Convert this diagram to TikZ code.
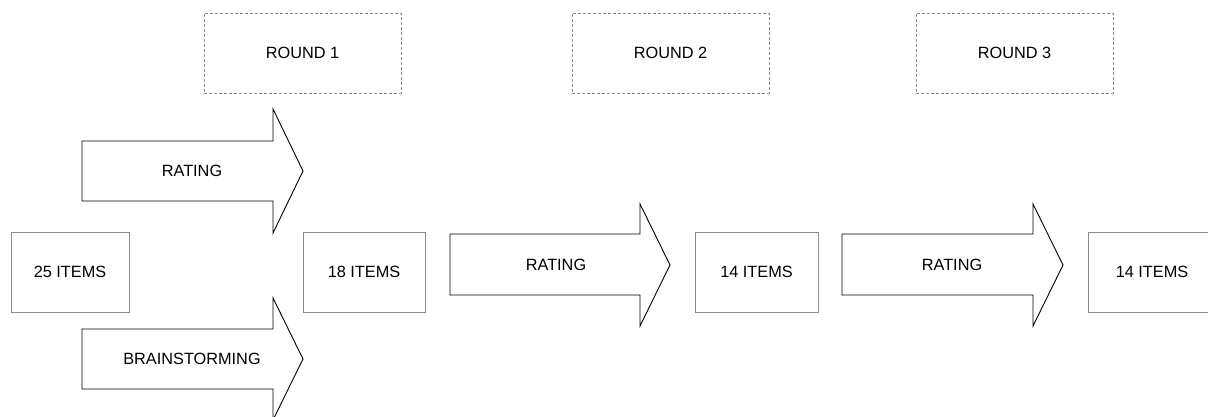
\documentclass[tikz,border=0pt]{standalone}
\usepackage{fontspec}
\setmainfont{Liberation Sans}
\begin{document}
\begin{tikzpicture}[x=1pt,y=-1pt,
  itembox/.style={draw=black!45,line width=0.8pt,fill=white,minimum width=#1,minimum height=80pt,inner sep=0pt,font=\fontsize{16.3}{19}\selectfont},
  roundbox/.style={draw=black!45,dashed,dash pattern=on 3pt off 2pt,line width=0.8pt,minimum width=197pt,minimum height=80pt,inner sep=0pt,font=\fontsize{16.3}{19}\selectfont},
  arrowshape/.style={draw=black,line width=0.9pt,fill=white,line join=miter},
  lbl/.style={inner sep=0pt,font=\fontsize{16.3}{19}\selectfont}]
\useasboundingbox (0,0) rectangle (1208,416);
\begin{scope}
\clip (0,0) rectangle (1208,416);
% round boxes
\node[roundbox] (r1) at (302.5,53) {ROUND 1};
\node[roundbox] (r2) at (670.5,53) {ROUND 2};
\node[roundbox] (r3) at (1014.5,53) {ROUND 3};
% item boxes
\node[itembox=118pt] (b25) at (70,272) {25 ITEMS};
\node[itembox=122pt] (b18) at (364,272) {18 ITEMS};
\node[itembox=123pt] (b14a) at (756.5,272) {14 ITEMS};
\node[itembox=128pt] (b14b) at (1152,272) {14 ITEMS};
% arrows
\draw[arrowshape] (82,141) -- (273,141) -- (273,109) -- (303,171) -- (273,233) -- (273,201) -- (82,201) -- cycle;
\node[lbl] (a1) at (192,171) {RATING};
\draw[arrowshape] (82,329) -- (273,329) -- (273,298) -- (303,359) -- (273,420) -- (273,389) -- (82,389) -- cycle;
\node[lbl] (a2) at (192,359) {BRAINSTORMING};
\draw[arrowshape] (450,234) -- (640,234) -- (640,204) -- (670,265) -- (640,326) -- (640,295) -- (450,295) -- cycle;
\node[lbl] (a3) at (556,265) {RATING};
\draw[arrowshape] (842,234) -- (1033,234) -- (1033,204) -- (1063,265) -- (1033,326) -- (1033,295) -- (842,295) -- cycle;
\node[lbl] (a4) at (952,265) {RATING};
\end{scope}
\end{tikzpicture}
\end{document}
